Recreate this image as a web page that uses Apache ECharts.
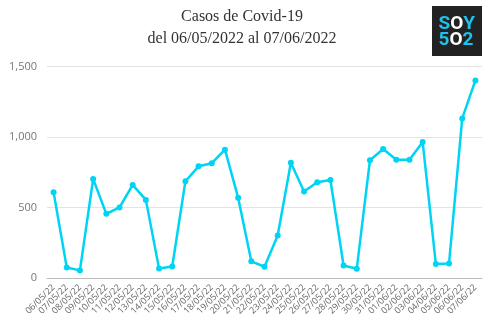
<!DOCTYPE html>
<html>
<head>
<meta charset="utf-8">
<script src="https://cdn.jsdelivr.net/npm/echarts@6/dist/echarts.min.js"></script>
<style>html,body{margin:0;padding:0;background:#fff;}#c{width:500px;height:318px;}</style>
</head>
<body>
<div id="c"></div>
<script>
var categories = ['06/05/22','07/05/22','08/05/22','09/05/22','10/05/22','11/05/22','12/05/22','13/05/22','14/05/22','15/05/22','16/05/22','17/05/22','18/05/22','19/05/22','20/05/22','21/05/22','22/05/22','23/05/22','24/05/22','25/05/22','26/05/22','27/05/22','28/05/22','29/05/22','30/05/22','31/05/22','01/06/22','02/06/22','03/06/22','04/06/22','05/06/22','06/06/22','07/06/22'];
var cases = [608,75,54,702,455,500,660,554,68,82,686,792,814,910,570,118,80,301,818,613,679,695,89,66,835,915,839,839,964,99,103,1132,1401];
var yTicks = [0,500,1000,1500];
var titleLines = ['Casos de Covid-19','del 06/05/2022 al 07/06/2022'];

var chart = echarts.init(document.getElementById('c'), null, {renderer:'canvas'});
var cyan = '#00d4f5';
var logoFont = {fontFamily: 'Roboto', fontWeight: 'bold', fontSize: 19};
chart.setOption({
  animation: false,
  title: {
    text: titleLines.join('\n'),
    left: 237, top: 1, textAlign: 'center',
    textStyle: {fontFamily: 'Liberation Serif', fontWeight: 'normal', fontSize: 16, color: '#333', lineHeight: 22}
  },
  grid: {left: 47, right: 18, top: 66.5, bottom: 40},
  xAxis: {
    type: 'category', data: categories, boundaryGap: true,
    axisLine: {lineStyle: {color: '#bbb'}},
    axisTick: {show: false},
    axisLabel: {interval: 0, rotate: 45, fontSize: 9, color: '#666', fontFamily: 'Open Sans', margin: 8}
  },
  yAxis: {
    type: 'value', min: yTicks[0], max: yTicks[yTicks.length-1], interval: 500,
    axisLine: {show: false}, axisTick: {show: false},
    splitLine: {lineStyle: {color: '#e3e3e3', width: 1}},
    axisLabel: {color: '#777', fontSize: 11, fontFamily: 'Open Sans', margin: 10,
      formatter: function(v){ return v.toLocaleString('en-US'); }}
  },
  series: [{
    type: 'line', data: cases,
    symbol: 'circle', symbolSize: 6,
    lineStyle: {color: cyan, width: 2.5},
    itemStyle: {color: cyan}
  }],
  graphic: [
    {type: 'rect', shape: {x: 432, y: 6, width: 50, height: 50}, style: {fill: '#222'}},
    {type: 'text', left: 438.5, top: 14.5, style: {
      text: '{c|S}{w|O}{c|Y}', rich: {
        c: Object.assign({fill: '#1ec0ec'}, logoFont),
        w: Object.assign({fill: '#fff'}, logoFont)
      }}},
    {type: 'text', left: 438.5, top: 30.5, style: {
      text: '{c|5}{w|O}{c|2}', rich: {
        c: Object.assign({fill: '#1ec0ec'}, logoFont),
        w: Object.assign({fill: '#fff'}, logoFont)
      }}}
  ]
});
</script>
</body>
</html>
